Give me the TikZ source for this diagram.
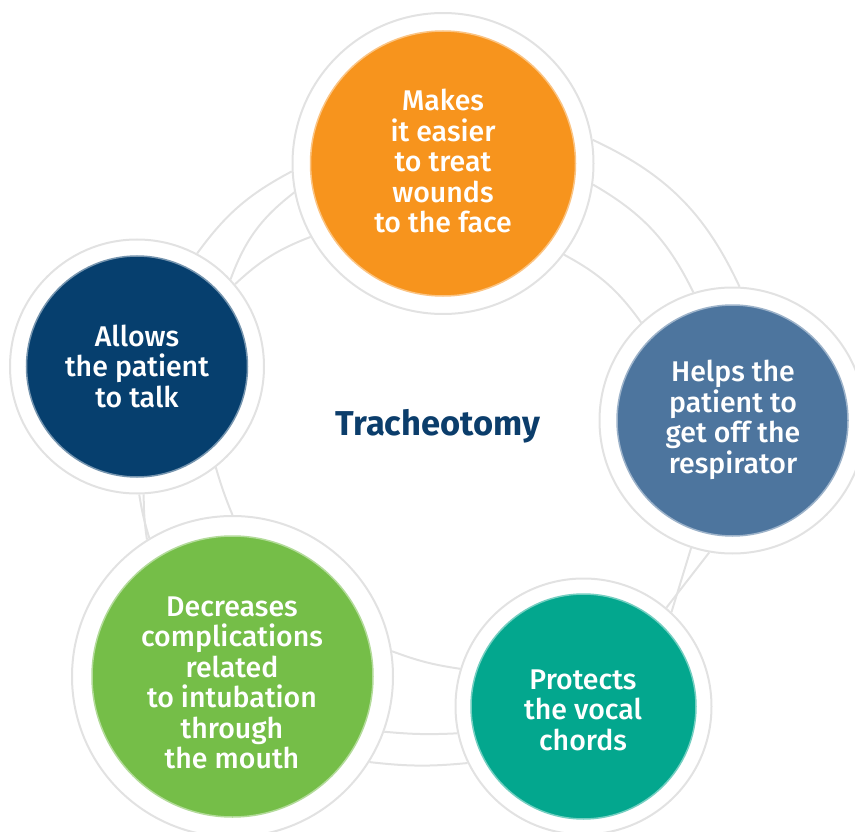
\documentclass[tikz,border=0pt]{standalone}
\usepackage{fontspec}
\setmainfont{Fira Sans}[UprightFont=* Medium, BoldFont=* Bold]
\pgfdeclarelayer{bg}
\pgfsetlayers{bg,main}
\definecolor{cOrange}{HTML}{F7941D}
\definecolor{cNavy}{HTML}{063F6E}
\definecolor{cSteel}{HTML}{4D759E}
\definecolor{cTeal}{HTML}{03A78E}
\definecolor{cGreen}{HTML}{75BE48}
\definecolor{ringgray}{HTML}{E2E2E2}
\definecolor{titleblue}{HTML}{0B3D6B}
\begin{document}
\begin{tikzpicture}[x=1pt,y=-1pt,
  ring/.style={circle, draw=ringgray, line width=2pt, fill=white, inner sep=0pt},
  disc/.style={circle, inner sep=0pt, fill=#1, draw=#1!55!white, line width=1.5pt},
  lbl/.style={text=white, align=center, inner sep=0pt, font=\fontsize{28.5}{30.5}\selectfont},
  arcline/.style={draw=ringgray, line width=2pt}]
\useasboundingbox (0,0) rectangle (855,832);
% outer rings
\node[ring, minimum size=301pt] (O) at (443,163.5) {};
\node[ring, minimum size=254pt] (N) at (137,366.5) {};
\node[ring, minimum size=266pt] (S) at (732.5,420.5) {};
\node[ring, minimum size=256pt] (T) at (583.5,706.5) {};
\node[ring, minimum size=321pt] (G) at (232.5,676.5) {};
% coloured discs
\node[disc=cOrange, minimum size=265pt] (Od) at (443,163.5) {};
\node[disc=cNavy, minimum size=221pt] (Nd) at (137,366.5) {};
\node[disc=cSteel, minimum size=231pt] (Sd) at (732.5,420.5) {};
\node[disc=cTeal, minimum size=225pt] (Td) at (583.5,706.5) {};
\node[disc=cGreen, minimum size=281pt] (Gd) at (232.5,676.5) {};
% labels
\node[lbl] (Ot) at (443,161) {Makes\\it easier\\to treat\\wounds\\to the face};
\node[lbl] (Nt) at (137,366) {Allows\\the patient\\to talk};
\node[lbl] (St) at (733,420) {Helps the\\patient to\\get off the\\respirator};
\node[lbl] (Tt) at (583,710) {Protects\\the vocal\\chords};
\node[lbl] (Gt) at (232,683) {Decreases\\complications\\related\\to intubation\\through\\the mouth};
\node[text=titleblue, inner sep=0pt, font=\fontsize{34.5}{38}\selectfont\bfseries] (title) at (438,426) {Tracheotomy};
% background arcs
\begin{pgfonlayer}{bg}
\draw[arcline] (O.9) to[bend left=20] (S.87);
\draw[arcline] (O.352) to[bend left=17] (S.107);
\draw[arcline] (O.323) to[bend left=13] (S.133);
\draw[arcline] (O.183) to[bend right=13] (N.62);
\draw[arcline] (O.191) to[bend right=16] (N.43);
\draw[arcline] (O.209) to[bend right=11] (N.40);
\draw[arcline] (N.271) to[bend right=4] (G.121);
\draw[arcline] (N.273) to[bend right=4] (G.122);
\draw[arcline] (N.308) to[bend right=3] (G.90);
\draw[arcline] (G.9) to[bend right=6] (T.163);
\draw[arcline] (G.340) to[bend right=4] (T.192);
\draw[arcline] (G.328) to[bend right=6] (T.206);
\draw[arcline] (S.252) -- (T.47);
\draw[arcline] (S.260) -- (T.50);
\end{pgfonlayer}
\end{tikzpicture}
\end{document}
